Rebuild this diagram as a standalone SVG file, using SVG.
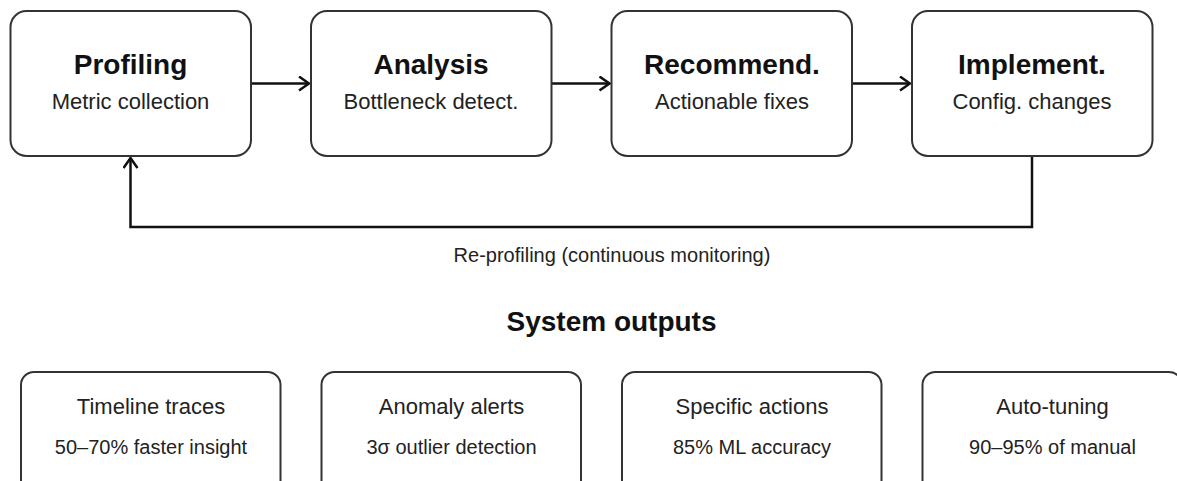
<svg xmlns="http://www.w3.org/2000/svg" width="1177" height="481" viewBox="0 0 1177 481">
<style>
.box{fill:#fff;stroke:#333;stroke-width:2}
.t{font-family:"Liberation Sans",Arial,sans-serif;font-size:28px;font-weight:bold;fill:#111;text-anchor:middle}
.s{font-family:"Liberation Sans",Arial,sans-serif;font-size:22px;fill:#222;text-anchor:middle}
.h{font-family:"Liberation Sans",Arial,sans-serif;font-size:22px;fill:#222;text-anchor:middle}
.o{font-family:"Liberation Sans",Arial,sans-serif;font-size:20px;fill:#222;text-anchor:middle}
.lbl{font-family:"Liberation Sans",Arial,sans-serif;font-size:20px;fill:#222;text-anchor:middle}
.c{fill:none;stroke:#111;stroke-width:2.5}
</style>
<defs>
<marker id="arr" viewBox="0 0 12 16" refX="11" refY="8" markerWidth="12" markerHeight="16" markerUnits="userSpaceOnUse" orient="auto">
<path d="M1,1 L11,8 L1,15" fill="none" stroke="#111" stroke-width="2.5"/>
</marker>
</defs>
<g id="connectors">
<line class="c" x1="251" y1="83.5" x2="309" y2="83.5" marker-end="url(#arr)"/>
<line class="c" x1="551.5" y1="83.5" x2="609.5" y2="83.5" marker-end="url(#arr)"/>
<line class="c" x1="852" y1="83.5" x2="910" y2="83.5" marker-end="url(#arr)"/>
<path class="c" d="M1032,156 V227 H130.5 V158" marker-end="url(#arr)"/>
<text class="lbl" x="612" y="262">Re-profiling (continuous monitoring)</text>
</g>
<g id="profiling">
<rect class="box" x="10.5" y="11" width="240.5" height="145" rx="16"/>
<text class="t" x="130.5" y="74">Profiling</text>
<text class="s" x="130.5" y="109">Metric collection</text>
</g>
<g id="analysis">
<rect class="box" x="311" y="11" width="240.5" height="145" rx="16"/>
<text class="t" x="431" y="74">Analysis</text>
<text class="s" x="431" y="109">Bottleneck detect.</text>
</g>
<g id="recommend">
<rect class="box" x="611.5" y="11" width="240.5" height="145" rx="16"/>
<text class="t" x="732" y="74">Recommend.</text>
<text class="s" x="732" y="109">Actionable fixes</text>
</g>
<g id="implement">
<rect class="box" x="912" y="11" width="240.5" height="145" rx="16"/>
<text class="t" x="1032" y="74">Implement.</text>
<text class="s" x="1032" y="109">Config. changes</text>
</g>
<text class="t" x="611.5" y="331">System outputs</text>
<g id="timeline">
<rect class="box" x="21" y="372" width="259.5" height="125" rx="13"/>
<text class="h" x="151" y="414">Timeline traces</text>
<text class="o" x="151" y="454">50–70% faster insight</text>
</g>
<g id="anomaly">
<rect class="box" x="321.5" y="372" width="259.5" height="125" rx="13"/>
<text class="h" x="451.5" y="414">Anomaly alerts</text>
<text class="o" x="451.5" y="454">3σ outlier detection</text>
</g>
<g id="actions">
<rect class="box" x="622" y="372" width="259.5" height="125" rx="13"/>
<text class="h" x="752" y="414">Specific actions</text>
<text class="o" x="752" y="454">85% ML accuracy</text>
</g>
<g id="autotuning">
<rect class="box" x="922.5" y="372" width="259.5" height="125" rx="13"/>
<text class="h" x="1052.5" y="414">Auto-tuning</text>
<text class="o" x="1052.5" y="454">90–95% of manual</text>
</g>
</svg>
